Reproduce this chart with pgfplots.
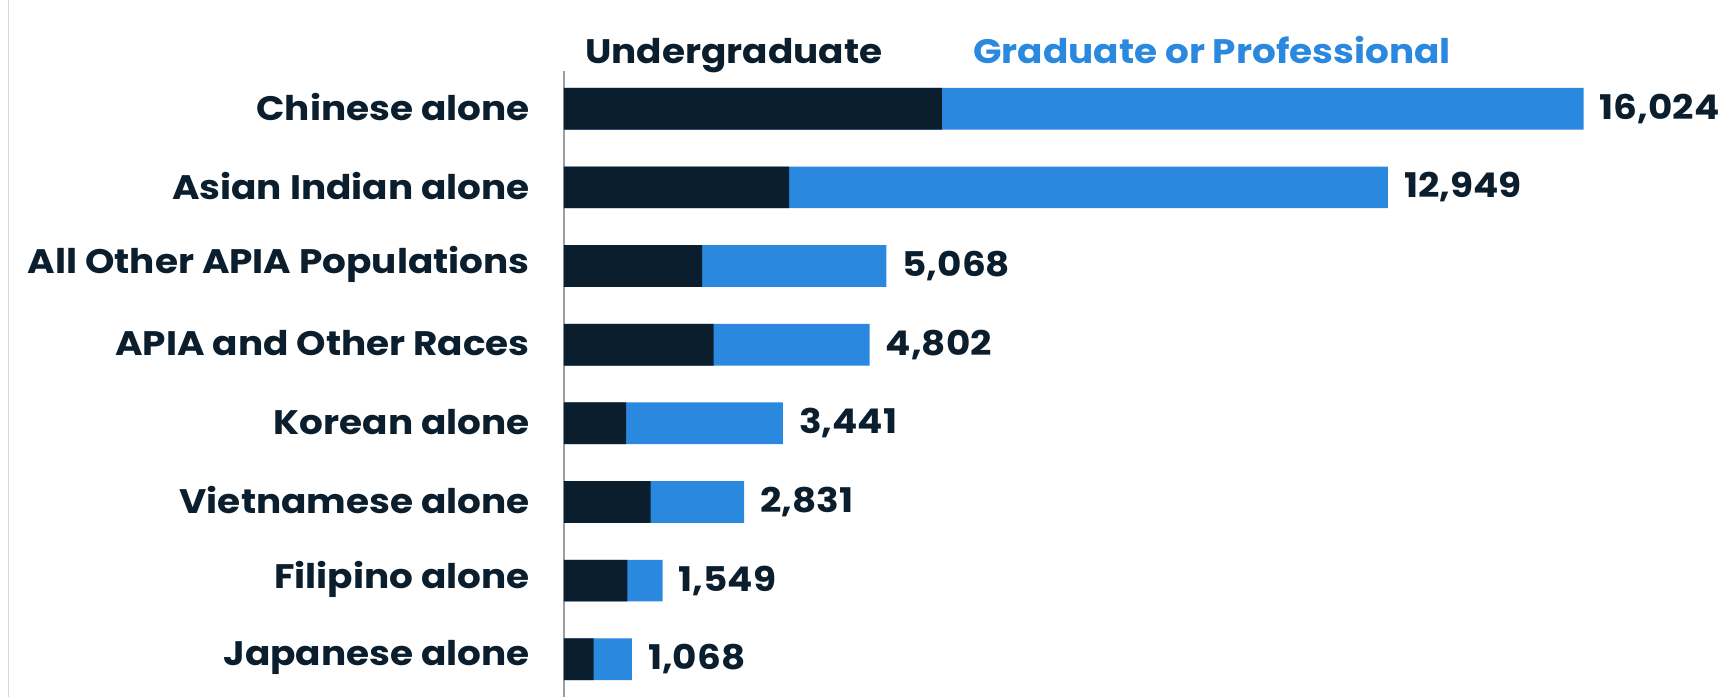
\documentclass[border=0pt]{standalone}
\usepackage{pgfplots}
\pgfplotsset{compat=1.18}
\usepackage{pgfplotstable}
\usepackage{fontspec}
\setmainfont{Poppins}[FakeStretch=1.1]
\definecolor{navy}{HTML}{0B1E2D}
\definecolor{blu}{HTML}{2A88DE}
\pgfplotstableread{
idx ug total
0 465 1068
1 995 1549
2 1360 2831
3 975 3441
4 2350 4802
5 2170 5068
6 3540 12949
7 5940 16024
}\data
\begin{document}
\begin{tikzpicture}
\begin{axis}[name=ax, scale only axis, width=1159pt, height=625.6pt,
  xmin=0, xmax=18215, ymin=-0.48, ymax=7.475,
  xbar, bar shift=0pt, bar width=0.53,
  axis x line=none, axis y line=left,
  y axis line style={-, draw=black!38, line width=1.6pt},
  ytick={0,...,7},
  yticklabels={Japanese alone, Filipino alone, Vietnamese alone, Korean alone, APIA and Other Races, All Other APIA Populations, Asian Indian alone, Chinese alone},
  ytick style={draw=none}, major tick length=0pt,
  yticklabel style={font=\fontsize{34}{40}\selectfont\bfseries, text=navy, anchor=east, inner sep=0pt, xshift=-34pt, yshift=1.5pt},
  clip=false]
\addplot[fill=blu, draw=none, point meta=explicit,
  nodes near coords={\pgfmathprintnumber[fixed, precision=0, 1000 sep={,}, assume math mode=true]{\pgfplotspointmeta}},
  nodes near coords style={font=\fontsize{34}{40}\selectfont\bfseries, text=navy, anchor=west, inner sep=0pt, xshift=16pt}]
  table[x=total, y=idx, meta=total]{\data};
\addplot[fill=navy, draw=none] table[x=ug, y=idx]{\data};
\end{axis}
\node[anchor=base west, inner sep=0pt, font=\fontsize{34}{40}\selectfont\bfseries, text=navy] at ([xshift=21pt, yshift=8pt]ax.north west) {Undergraduate};
\node[anchor=base west, inner sep=0pt, font=\fontsize{34}{40}\selectfont\bfseries, text=blu] at ([xshift=409pt, yshift=8pt]ax.north west) {Graduate or Professional};
\draw[black!15, line width=1pt] ([xshift=-555pt]ax.south west) -- ++(0,697pt);
\pgfresetboundingbox
\path ([xshift=-564pt]ax.south west) rectangle ([xshift=1159pt, yshift=697pt]ax.south west);
\end{tikzpicture}
\end{document}
